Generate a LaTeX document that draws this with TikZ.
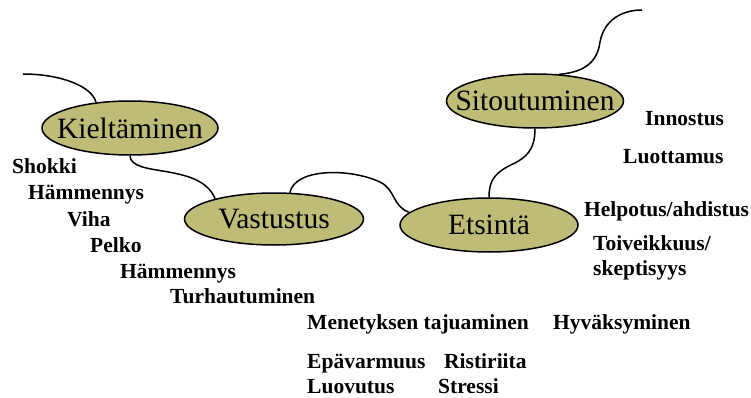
\documentclass[tikz,border=0pt]{standalone}
\usepackage{fontspec}
\setmainfont{Liberation Serif}
\usetikzlibrary{shapes.geometric}
\definecolor{olivefill}{RGB}{190,188,118}
\tikzset{
  stage/.style={ellipse, draw=black, line width=1.5pt, fill=olivefill, inner sep=0pt,
    label={[inner sep=0pt, font=\fontsize{29.5}{31}\selectfont]center:#1}},
  feel/.style={anchor=base west, inner sep=0pt, font=\fontsize{21.5}{23}\selectfont\bfseries},
  link/.style={line width=1.5pt, draw=black}
}
\begin{document}
\begin{tikzpicture}[x=1pt,y=-1pt]
\useasboundingbox (0,0) rectangle (751,398);
% stages
\node[stage=Kieltäminen, minimum width=176pt, minimum height=54pt] (kiel) at (130,128) {};
\node[stage=Vastustus, minimum width=179pt, minimum height=52pt] (vast) at (274,219) {};
\node[stage=Etsintä, minimum width=178pt, minimum height=54pt] (ets) at (489,225) {};
\node[stage=Sitoutuminen, minimum width=177pt, minimum height=54pt] (sit) at (535,101) {};
% free ends
\coordinate (kfree) at (23,74);
\coordinate (sfree) at (642,10);
% connectors
\draw[link] (kfree) .. controls (60,74) and (92,86) .. (kiel.143);
\draw[link] (kiel.south) .. controls (131,178) and (200,162) .. (vast.161);
\draw[link] (vast.59) .. controls (295,168) and (350,168) .. (380,182) .. controls (396,190) and (392,206) .. (ets.171);
\draw[link] (ets.north) .. controls (489,180) and (495,172) .. (515,163) .. controls (526,157) and (535,150) .. (sit.south);
\draw[link] (sit.48.5) .. controls (590,72) and (598,57) .. (600,42) .. controls (604,20) and (622,10) .. (sfree);
% feelings left
\node[feel] (f1) at (12,173) {Shokki};
\node[feel] (f2) at (28,199) {Hämmennys};
\node[feel] (f3) at (67,226) {Viha};
\node[feel] (f4) at (90,252) {Pelko};
\node[feel] (f5) at (120,278) {Hämmennys};
\node[feel] (f6) at (170,303) {Turhautuminen};
% feelings right
\node[feel] (r1) at (645,126) {Innostus};
\node[feel] (r2) at (623,164) {Luottamus};
\node[feel] (r3) at (584,216) {Helpotus/ahdistus};
\node[feel] (r4) at (593,250) {Toiveikkuus/};
\node[feel] (r5) at (593,275) {skeptisyys};
% feelings bottom
\node[feel] (b1) at (307,329) {Menetyksen tajuaminen};
\node[feel] (b2) at (553,329) {Hyväksyminen};
\node[feel] (b3) at (307,368) {Epävarmuus};
\node[feel] (b4) at (444,368) {Ristiriita};
\node[feel] (b5) at (307,393) {Luovutus};
\node[feel] (b6) at (438,393) {Stressi};
\end{tikzpicture}
\end{document}
